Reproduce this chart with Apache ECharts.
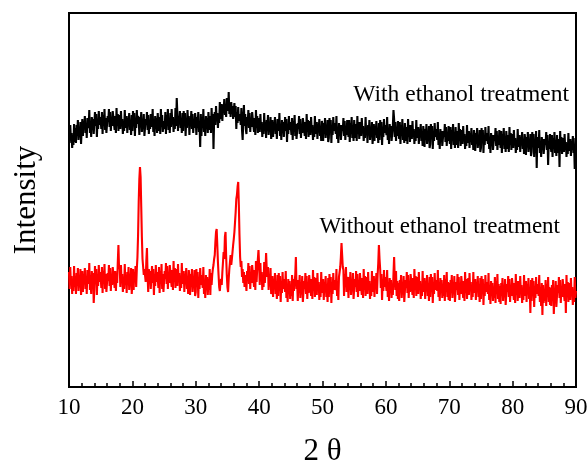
<!DOCTYPE html>
<html>
<head>
<meta charset="utf-8">
<script src="https://cdn.jsdelivr.net/npm/echarts@6/dist/echarts.min.js"></script>
<style>html,body{margin:0;padding:0;background:#fff}#c{width:588px;height:463px}</style>
</head>
<body>
<div id="c"></div>
<script>
// 2-theta range and step of the scans
var thetaStart = 10;
var thetaStep = 0.1;

// "With ethanol treatment" (black), intensity a.u., one row per degree (10 pts)
var withEthanol = [
258,244,262,247,254,239,251,242,263,245,
259,244,262,254,267,247,256,250,265,243,
257,268,251,266,260,271,254,263,249,269,
269,259,277,254,265,250,270,262,268,253,
255,275,261,273,250,268,258,276,262,270,
266,258,275,253,272,262,278,257,269,254,
254,271,265,278,260,275,256,269,261,276,
275,263,257,271,254,279,261,273,256,267,
272,258,276,261,268,253,265,256,277,259,
260,271,254,269,263,274,257,266,252,272,
256,276,262,274,251,269,259,277,263,271,
267,252,270,262,275,255,264,258,273,251,
251,268,262,275,257,272,253,266,258,273,
270,260,278,255,266,251,271,263,269,254,
274,262,256,270,253,278,260,272,255,266,
266,258,275,253,272,262,278,257,269,254,
274,260,278,263,270,255,267,258,279,261,
289,273,256,271,265,276,259,268,254,274,
256,276,262,274,251,269,259,277,263,271,
252,269,263,276,258,273,254,267,259,274,
267,252,270,262,275,255,264,240,273,251,
270,260,278,255,266,251,271,263,269,254,
275,263,257,271,254,279,261,273,238,267,
275,262,281,266,274,259,272,264,285,268,
271,283,266,282,276,288,272,280,270,289,
289,276,295,273,284,270,285,276,281,268,
267,284,270,281,258,275,264,280,266,273,
270,262,279,257,247,266,282,261,273,258,
253,270,264,277,259,274,255,268,260,275,
273,261,255,269,252,277,259,271,254,265,
269,255,273,258,265,250,262,253,274,256,
264,249,267,259,272,252,261,255,270,248,
256,267,250,265,259,270,253,262,248,268,
266,256,274,251,262,247,267,259,265,250,
250,270,256,268,245,263,253,271,257,265,
260,252,269,247,266,256,272,251,263,248,
247,264,258,271,253,268,249,262,254,269,
269,257,251,265,248,273,255,267,250,261,
266,252,270,255,262,247,259,250,271,253,
254,265,248,263,257,268,251,260,246,266,
261,246,264,256,269,249,258,252,267,245,
249,269,255,267,244,262,252,270,256,264,
263,253,271,248,259,244,264,256,262,247,
245,262,256,269,251,266,247,260,252,267,
258,250,267,245,264,254,270,249,261,246,
267,255,249,263,246,271,253,265,248,259,
265,251,269,254,261,246,258,249,270,252,
259,244,262,254,267,247,256,250,265,243,
252,263,246,261,255,266,249,258,244,264,
247,267,253,265,242,260,250,268,254,262,
262,252,270,247,258,243,263,255,261,246,
244,261,277,268,250,265,246,259,251,266,
256,248,265,243,262,252,268,247,259,244,
264,252,246,260,243,268,250,262,245,256,
262,248,266,251,258,243,255,246,267,249,
249,260,243,258,252,263,246,255,241,261,
255,240,258,250,263,243,252,246,261,239,
243,263,249,261,238,256,246,264,250,258,
257,247,265,242,253,238,258,250,256,241,
239,256,250,263,245,260,241,254,246,261,
251,243,260,238,257,247,263,242,254,239,
260,248,242,256,239,264,246,258,241,252,
257,243,261,246,253,238,250,241,262,244,
245,256,239,254,248,259,242,251,237,257,
251,236,254,246,259,239,248,242,257,235,
239,259,245,257,234,252,242,260,246,254,
253,243,261,238,249,234,254,246,252,237,
235,252,246,259,241,256,237,250,242,257,
247,239,256,234,253,243,259,238,250,235,
256,244,238,252,235,260,242,254,237,248,
253,239,257,242,249,234,246,237,258,240,
241,252,235,250,244,255,238,247,233,253,
247,232,250,242,255,235,244,238,253,231,
235,255,241,253,230,248,238,256,219,250,
249,239,257,234,245,230,250,242,248,233,
231,248,242,255,237,252,222,246,238,253,
243,235,252,230,249,239,255,234,246,231,
252,240,234,248,220,256,238,250,233,244,
249,235,253,238,245,230,242,233,254,236,
237,248,231,246,240,251,234,243,218,249,
243
];

// "Without ethanol treatment" (red), intensity a.u., one row per degree (10 pts)
var withoutEthanol = [
115,98,120,102,111,93,108,96,121,100,
111,93,114,105,119,96,107,100,118,92,
102,116,95,113,106,119,98,110,93,117,
115,103,124,97,110,93,116,106,114,84,
98,121,104,118,92,113,101,122,105,115,
110,99,120,94,116,104,123,98,113,95,
94,114,106,122,101,119,96,112,102,120,
121,106,99,116,96,112,104,125,142,118,
122,100,122,104,113,95,110,98,123,102,
112,94,115,106,120,97,108,101,119,93,
104,118,97,115,108,121,100,118,130,152,
185,208,220,210,180,150,128,120,112,118,
117,105,126,139,112,95,118,108,116,98,
98,121,104,118,92,113,101,122,105,115,
110,99,120,94,116,104,123,98,113,95,
96,116,108,124,103,121,98,114,104,122,
122,107,100,117,97,126,105,119,99,113,
118,101,123,105,114,96,111,99,124,103,
102,116,95,113,106,119,98,110,93,117,
110,92,113,104,118,95,106,99,117,91,
95,118,101,115,89,110,98,119,102,112,
111,99,120,93,106,89,112,102,110,92,
108,97,118,92,114,102,112,118,122,128,
132,145,155,158,142,125,112,100,96,104,
108,102,115,125,135,128,150,155,130,112,
100,95,108,118,125,132,122,128,135,142,
148,155,165,175,188,192,200,205,182,152,
130,120,126,110,118,104,115,100,112,106,
96,116,108,124,103,121,98,114,104,122,
122,107,100,117,97,126,105,119,120,137,
122,102,124,106,115,97,112,100,125,104,
115,134,118,110,120,97,108,101,119,93,
97,111,90,108,101,114,93,105,88,112,
91,114,97,111,85,106,94,115,98,108,
107,95,116,89,102,85,108,98,106,88,
102,91,112,86,108,96,105,112,130,98,
104,86,107,98,112,89,100,93,111,85,
86,106,98,114,93,111,88,104,94,112,
113,98,91,108,88,117,96,110,90,104,
109,92,114,96,105,87,102,90,115,94,
94,108,87,105,98,111,90,102,85,109,
90,113,96,110,84,105,93,114,97,107,
109,97,118,91,104,87,110,112,120,130,
144,132,120,117,91,113,101,120,95,110,
107,89,110,101,115,92,103,96,114,88,
88,108,100,116,95,113,90,106,96,114,
114,99,92,109,89,118,97,111,91,105,
110,93,115,97,106,88,103,91,116,95,
97,111,90,108,101,114,93,112,124,142,
128,118,99,113,87,108,96,117,100,110,
108,96,117,90,103,86,109,99,107,89,
103,92,113,130,109,97,116,91,106,88,
104,86,107,98,112,89,100,93,111,85,
87,107,99,115,94,112,89,105,95,113,
114,99,92,109,89,118,97,111,91,105,
110,93,115,97,106,88,103,91,116,95,
95,109,88,106,99,112,91,103,86,110,
90,113,96,110,84,105,93,114,97,107,
108,96,117,90,103,86,109,99,107,89,
102,91,112,86,108,96,115,90,105,87,
104,86,107,98,112,89,100,93,111,85,
85,105,97,113,92,110,87,103,93,111,
111,96,89,106,86,115,94,108,88,102,
109,92,114,96,105,87,102,90,115,94,
94,108,87,105,98,111,90,102,85,109,
88,111,94,108,82,103,91,112,95,105,
105,93,114,87,100,83,106,96,104,86,
100,89,110,84,106,94,113,88,103,85,
101,83,104,95,109,86,97,90,108,82,
83,103,95,111,90,108,85,101,91,109,
109,94,87,104,84,113,92,106,86,100,
106,89,111,93,102,84,99,87,112,91,
92,106,85,103,96,109,88,100,74,107,
86,109,92,106,80,101,89,110,93,103,
103,91,112,85,98,81,104,72,102,84,
97,86,107,81,103,91,110,85,100,82,
99,81,102,93,107,73,95,88,106,80,
82,102,94,110,89,107,84,100,90,108,
108,93,86,103,74,112,91,105,85,99,
104,87,109,91,100,82,97,85,110,89,
96
];

// Series labels
var seriesNames = ['With ethanol treatment', 'Without ethanol treatment'];
var xTitle = '2 \u03b8';
var yTitle = 'Intensity';

function toPairs(vals) {
  var out = [];
  for (var i = 0; i < vals.length; i++) {
    out.push([+(thetaStart + i * thetaStep).toFixed(2), vals[i]]);
  }
  return out;
}

var FONT = '"Liberation Serif","Times New Roman",serif';
var chart = echarts.init(document.getElementById('c'), null, {renderer: 'canvas'});
chart.setOption({
  animation: false,
  backgroundColor: '#fff',
  grid: {left: 69, right: 12, top: 13, bottom: 76, show: true, borderColor: '#000', borderWidth: 2,
         backgroundColor: 'transparent', containLabel: false, outerBoundsMode: 'none'},
  xAxis: {
    type: 'value', min: 10, max: 90, interval: 10,
    name: xTitle, nameLocation: 'middle', nameGap: 49,
    nameTextStyle: {fontFamily: FONT, fontSize: 31, color: '#000'},
    axisLine: {show: true, lineStyle: {color: '#000', width: 2}},
    axisTick: {show: true, inside: true, length: 6, lineStyle: {color: '#000', width: 1.5}},
    minorTick: {show: true, splitNumber: 5, length: 4, lineStyle: {color: '#000', width: 1.5}},
    axisLabel: {fontFamily: FONT, fontSize: 23, color: '#000', margin: 9},
    splitLine: {show: false}
  },
  yAxis: {
    type: 'value', min: 0, max: 374,
    name: yTitle, nameLocation: 'middle', nameGap: 27, nameRotate: 90,
    nameTextStyle: {fontFamily: FONT, fontSize: 31, color: '#000'},
    axisLine: {show: true, lineStyle: {color: '#000', width: 2}},
    axisTick: {show: false},
    axisLabel: {show: false},
    splitLine: {show: false}
  },
  series: [
    {name: seriesNames[0], type: 'line', data: toPairs(withEthanol), showSymbol: false, sampling: null,
     lineStyle: {color: '#000', width: 2.1}, itemStyle: {color: '#000'}},
    {name: seriesNames[1], type: 'line', data: toPairs(withoutEthanol), showSymbol: false, sampling: null,
     lineStyle: {color: '#ff0000', width: 2.1}, itemStyle: {color: '#ff0000'}}
  ],
  graphic: [
    {type: 'text', right: 588 - 569, top: 83, style: {text: seriesNames[0], font: '23.5px ' + FONT, fill: '#000'}},
    {type: 'text', right: 588 - 560, top: 215, style: {text: seriesNames[1], font: '23px ' + FONT, fill: '#000'}}
  ]
});
</script>
</body>
</html>
